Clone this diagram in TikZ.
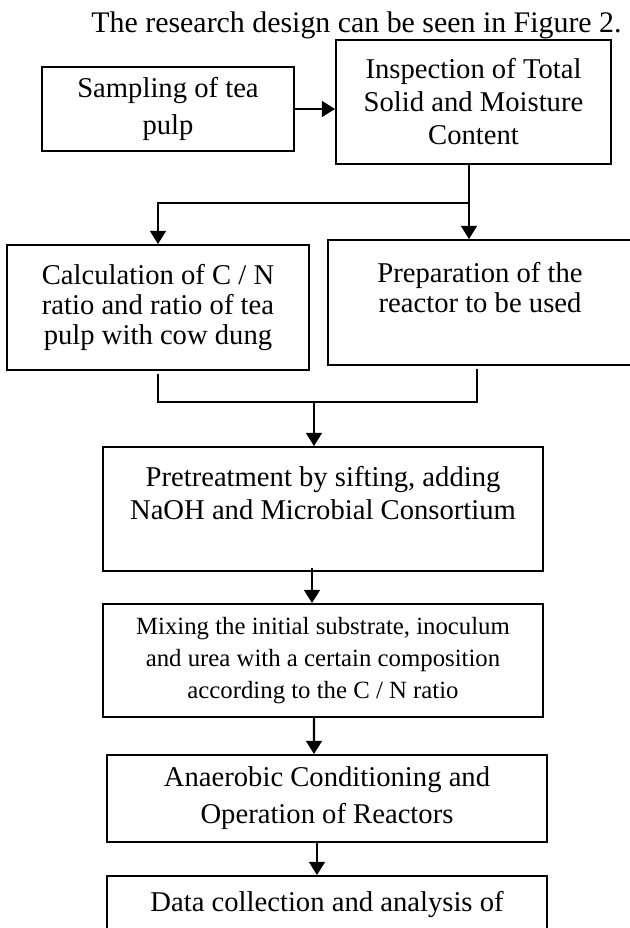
\documentclass[tikz,border=0pt]{standalone}
\usepackage{fontspec}
\setmainfont{Liberation Serif}
\usetikzlibrary{arrows.meta}

\begin{document}
\begin{tikzpicture}[
    stepbox/.style={draw, line width=1.1pt, align=center, inner sep=0pt,
      font=\fontsize{16.3}{18.8}\selectfont},
    arr/.style={-{Triangle[length=7.5pt, width=9pt]}, line width=1.2pt},
    link/.style={line width=0.8pt}
  ]
  \useasboundingbox (0,0) rectangle (12.58,-18.56);
  \node[anchor=base, font=\fontsize{17}{20}\selectfont] (title) at (7.13,-0.64) {The research design can be seen in Figure 2.};
  % first row
  \node[stepbox, minimum width=5.04cm, minimum height=1.68cm, font=\fontsize{16.3}{21.5}\selectfont] (samp) at (3.36,-2.18) {Sampling of tea\\pulp};
  \node[stepbox, minimum width=5.5cm, minimum height=2.48cm] (insp) at (9.47,-2.04) {Inspection of Total\\Solid and Moisture\\Content};
  % second row
  \node[stepbox, minimum width=6.04cm, minimum height=2.5cm, font=\fontsize{16.3}{17}\selectfont] (calc) at (3.16,-6.15) {Calculation of C / N\\ratio and ratio of tea\\pulp with cow dung};
  \node[stepbox, minimum width=6.08cm, minimum height=2.5cm, font=\fontsize{16.3}{17}\selectfont] (prep) at (9.6,-6.05) {Preparation of the\\reactor to be used\\~};
  % main column
  \node[stepbox, minimum width=8.8cm, minimum height=2.48cm] (pret) at (6.46,-10.18) {Pretreatment by sifting, adding\\NaOH and Microbial Consortium\\~};
  \node[stepbox, minimum width=8.8cm, minimum height=2.26cm, font=\fontsize{14.1}{18.2}\selectfont] (mix) at (6.46,-13.21) {Mixing the initial substrate, inoculum\\and urea with a certain composition\\according to the C / N ratio};
  \node[stepbox, minimum width=8.8cm, minimum height=1.74cm, font=\fontsize{16.3}{21}\selectfont] (anae) at (6.54,-15.97) {Anaerobic Conditioning and\\Operation of Reactors};
  \node[stepbox, minimum width=8.8cm, minimum height=1.68cm] (data) at (6.54,-18.36) {Data collection and analysis of\\~};

  \coordinate (split) at (9.38,-4.06);
  \coordinate (joinL) at (3.16,-8.04);
  \coordinate (joinR) at (9.54,-8.04);
  \coordinate (merge) at (6.28,-8.04);

  \draw[arr] (samp.east) -- (samp.east -| insp.west);
  \draw[link] (insp.south -| split) -- (split);
  \draw[arr] (split) -- (split |- prep.north);
  \draw[arr] (split) -| (calc.north);
  \draw[link] ([yshift=-1.5pt]calc.south) -- (joinL) -- (joinR) -- ([yshift=-1.5pt]prep.south -| joinR);
  \draw[arr] (merge) -- (merge |- pret.north);
  \draw[arr] ([xshift=-0.22cm,yshift=2pt]pret.south) -- ([xshift=-0.22cm]mix.north);
  \draw[arr] ([xshift=-0.18cm]mix.south) -- ([xshift=-0.26cm]anae.north);
  \draw[arr] ([xshift=-0.2cm,yshift=1pt]anae.south) -- ([xshift=-0.2cm]data.north);
\end{tikzpicture}
\end{document}
